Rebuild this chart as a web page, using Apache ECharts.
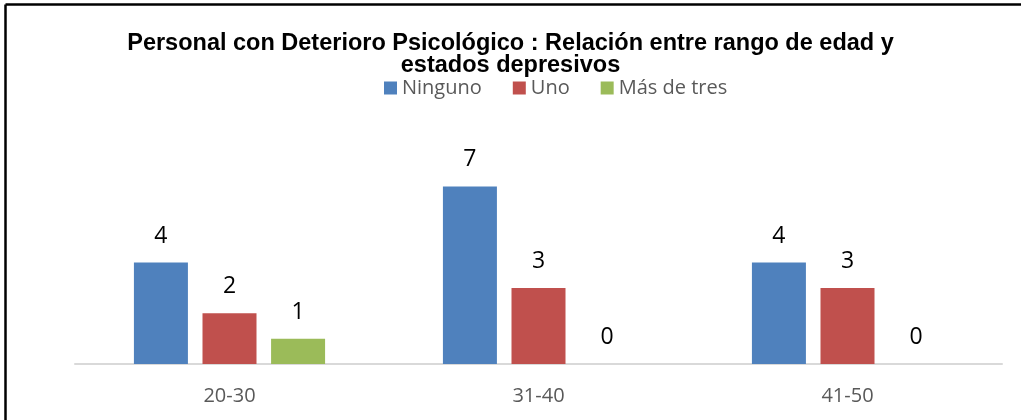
<!DOCTYPE html>
<html style="height: 100%">

<head>
  <meta charset="utf-8">
  <script src="https://cdn.jsdelivr.net/npm/echarts@6/dist/echarts.min.js"></script>
</head>

<body style="height: 100%; margin: 0; background: #fff">
  <div id="main" style="width: 1021px; height: 420px"></div>

  <script type="text/javascript">
    // datos
    var rangos = ['20-30', '31-40', '41-50'];
    var ninguno = [4, 7, 4];
    var uno = [2, 3, 3];
    var masDeTres = [1, 0, 0];

    var myChart = echarts.init(document.getElementById('main'));

    var etiqueta = {
      show: true,
      position: 'top',
      distance: 15,
      color: '#000',
      fontFamily: 'Open Sans',
      fontSize: 23
    };

    var option = {
      backgroundColor: '#fff',
      animation: false,
      title: {
        text: 'Personal con Deterioro Psicológico : Relación entre rango de edad y\nestados depresivos',
        left: 'center',
        top: 28,
        textStyle: {
          fontFamily: 'Liberation Sans',
          fontWeight: 'bold',
          fontSize: 23.5,
          lineHeight: 22,
          color: '#000'
        }
      },
      legend: {
        left: 379,
        top: 73,
        itemWidth: 13,
        itemHeight: 13,
        itemGap: 31,
        icon: 'rect',
        textStyle: {
          fontFamily: 'Open Sans',
          fontSize: 20,
          color: '#595959',
          padding: [0, 0, 0, 0]
        },
        data: ['Ninguno', 'Uno', 'Más de tres']
      },
      grid: {
        left: 75,
        right: 19,
        top: 161,
        bottom: 56
      },
      xAxis: {
        type: 'category',
        data: rangos,
        axisLine: { lineStyle: { color: '#D9D9D9', width: 2 } },
        axisTick: { show: false },
        axisLabel: {
          margin: 22,
          fontFamily: 'Open Sans',
          fontSize: 20,
          color: '#595959'
        }
      },
      yAxis: {
        type: 'value',
        min: 0,
        max: 8,
        show: false,
        splitLine: { show: false }
      },
      series: [{
          name: 'Ninguno',
          type: 'bar',
          barWidth: 54,
          barGap: '27%',
          itemStyle: { color: '#4F81BD' },
          label: etiqueta,
          data: ninguno
        },
        {
          name: 'Uno',
          type: 'bar',
          barWidth: 54,
          barGap: '27%',
          itemStyle: { color: '#C0504D' },
          label: etiqueta,
          data: uno
        },
        {
          name: 'Más de tres',
          type: 'bar',
          barWidth: 54,
          barGap: '27%',
          itemStyle: { color: '#9BBB59' },
          label: etiqueta,
          data: masDeTres
        }
      ],
      graphic: [{
          type: 'line',
          shape: { x1: 5.5, y1: 4.5, x2: 1030, y2: 4.5 },
          style: { stroke: '#000', lineWidth: 2.5 }
        },
        {
          type: 'line',
          shape: { x1: 5.5, y1: 4.5, x2: 5.5, y2: 430 },
          style: { stroke: '#000', lineWidth: 2.5 }
        }
      ]
    };

    myChart.setOption(option);
  </script>
</body>

</html>
